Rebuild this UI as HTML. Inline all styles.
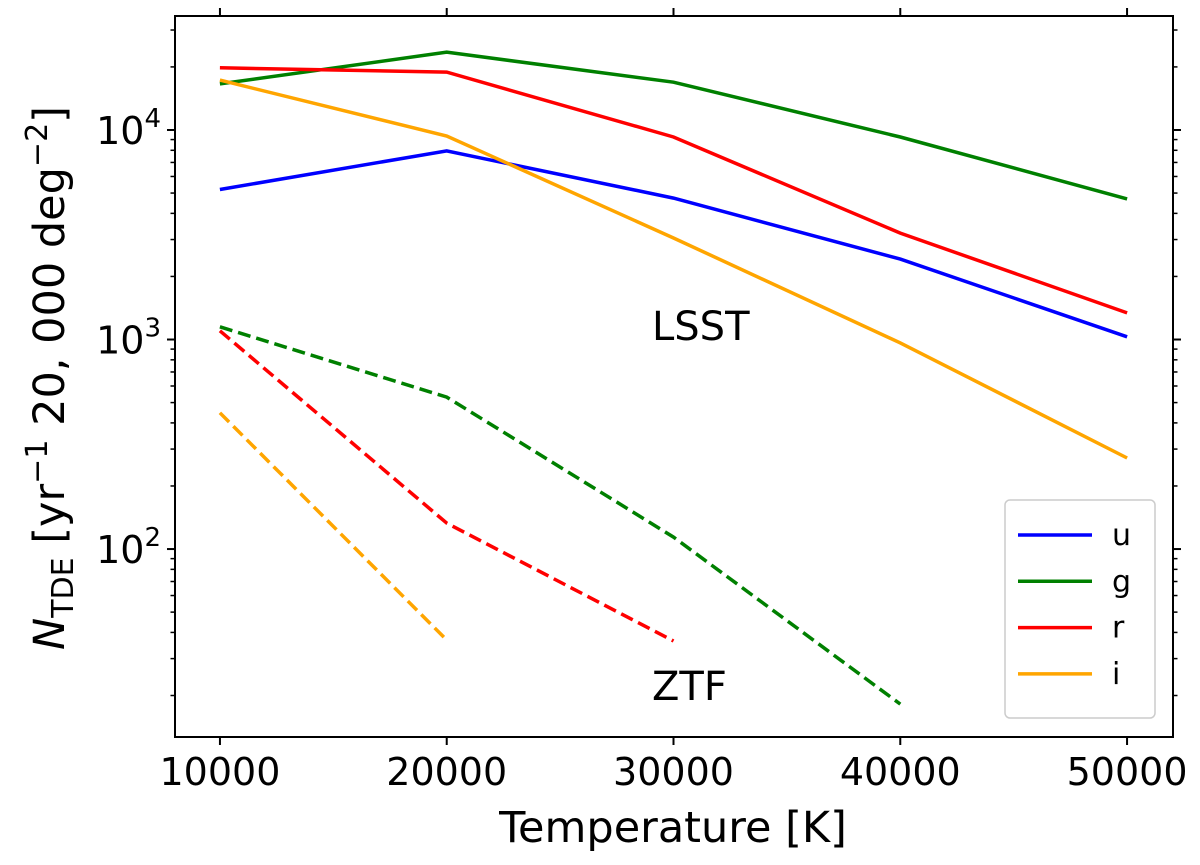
<!DOCTYPE html>
<html><head><meta charset="utf-8"><style>
body{margin:0;background:#fff}
svg{font-family:"DejaVu Sans","Liberation Sans",sans-serif}
</style></head><body>
<svg id="chart" width="1200" height="860">
<g id="plot"></g>
</svg>
<script>
const temps=[10000,20000,30000,40000,50000];
const lsstU=[5200,7950,4730,2420,1030];
const lsstG=[16600,23500,16900,9260,4690];
const lsstR=[19800,18900,9260,3220,1340];
const lsstI=[17300,9360,3050,963,272];
const ztfG=[1150,531,114,18.2];
const ztfR=[1100,133,36.4];
const ztfI=[447,36.8];
const xTicks=[10000,20000,30000,40000,50000];
const yDecades=[2,3,4];
const L=175,R=1173,T=16,B=737;
const xMin=8018,xMax=52026,yMin=1.103,yMax=4.544;
const X=v=>L+(v-xMin)/(xMax-xMin)*(R-L);
const Y=v=>B-(Math.log10(v)-yMin)/(yMax-yMin)*(B-T);
const NS="http://www.w3.org/2000/svg";
const g=document.getElementById('plot');
function el(t,a){const e=document.createElementNS(NS,t);for(const k in a)e.setAttribute(k,a[k]);g.appendChild(e);return e;}
function line(vals,color,dash,name){
 const pts=vals.map((v,i)=>X(temps[i]).toFixed(1)+','+Y(v).toFixed(1)).join(' ');
 const p=el('polyline',{points:pts,fill:'none',stroke:color,'stroke-width':3.5});
 if(dash)p.setAttribute('stroke-dasharray','13,6');
 
 
}
line(lsstU,'#0000ff',false,'lsst-u-line');
line(lsstG,'#008000',false,'lsst-g-line');
line(lsstR,'#ff0000',false,'lsst-r-line');
line(lsstI,'#ffa500',false,'lsst-i-line');
line(ztfG,'#008000',true,'ztf-g-line');
line(ztfR,'#ff0000',true,'ztf-r-line');
line(ztfI,'#ffa500',true,'ztf-i-line');
const fr=el('rect',{x:L,y:T,width:R-L,height:B-T,fill:'none',stroke:'#000','stroke-width':2});


xTicks.forEach(v=>{
 const x=X(v);
 el('line',{x1:x,x2:x,y1:B,y2:B+8,stroke:'#000','stroke-width':2});
 el('line',{x1:x,x2:x,y1:T,y2:T-8,stroke:'#000','stroke-width':2});
 const t=el('text',{x:x,y:B+48,'text-anchor':'middle','font-size':38});
 t.textContent=v;
 
 
});
for(let d=1;d<=4;d++){for(let m=1;m<10;m++){
 const v=m*Math.pow(10,d);const y=Y(v);
 if(y<T||y>B)continue;
 const len=m===1?8:4.5;
 el('line',{x1:L-len,x2:L,y1:y,y2:y,stroke:'#000','stroke-width':m===1?2:1.5});
 el('line',{x1:R,x2:R+len,y1:y,y2:y,stroke:'#000','stroke-width':m===1?2:1.5});
}}
yDecades.forEach(d=>{
 const y=Y(Math.pow(10,d));
 const t=el('text',{x:L-14,y:y+14,'text-anchor':'end','font-size':38});
 t.innerHTML='10<tspan dy="-17" font-size="26">'+d+'</tspan>';
 
 
});
const xl=el('text',{x:673,y:842,'text-anchor':'middle','font-size':43});
xl.textContent='Temperature [K]';


const yl=el('text',{x:0,y:0,'text-anchor':'middle','font-size':43,transform:'translate(64,378) rotate(-90)'});
yl.innerHTML='<tspan font-style="italic">N</tspan><tspan font-size="30" dy="9">TDE</tspan><tspan dy="-9"> [yr</tspan><tspan font-size="30" dy="-17">−1</tspan><tspan dy="17"> 20, 000 deg</tspan><tspan font-size="30" dy="-17">−2</tspan><tspan dy="17">]</tspan>';


const a1=el('text',{x:652,y:340,'font-size':40});a1.textContent='LSST';


const a2=el('text',{x:652,y:700,'font-size':40});a2.textContent='ZTF';


const lb=el('rect',{x:1005,y:500,width:150,height:218,rx:5,fill:'#fff',stroke:'#ccc','stroke-width':1.5});


const legNames=['u','g','r','i'];
const legColors=['#0000ff','#008000','#ff0000','#ffa500'];
legNames.forEach((n,i)=>{
 const y=535+i*46.3;
 const l=el('line',{x1:1018,x2:1092,y1:y,y2:y,stroke:legColors[i],'stroke-width':3.5});
 
 
 const t=el('text',{x:1112,y:y+10,'font-size':30});t.textContent=n;
 
 
});
</script>
</body></html>
